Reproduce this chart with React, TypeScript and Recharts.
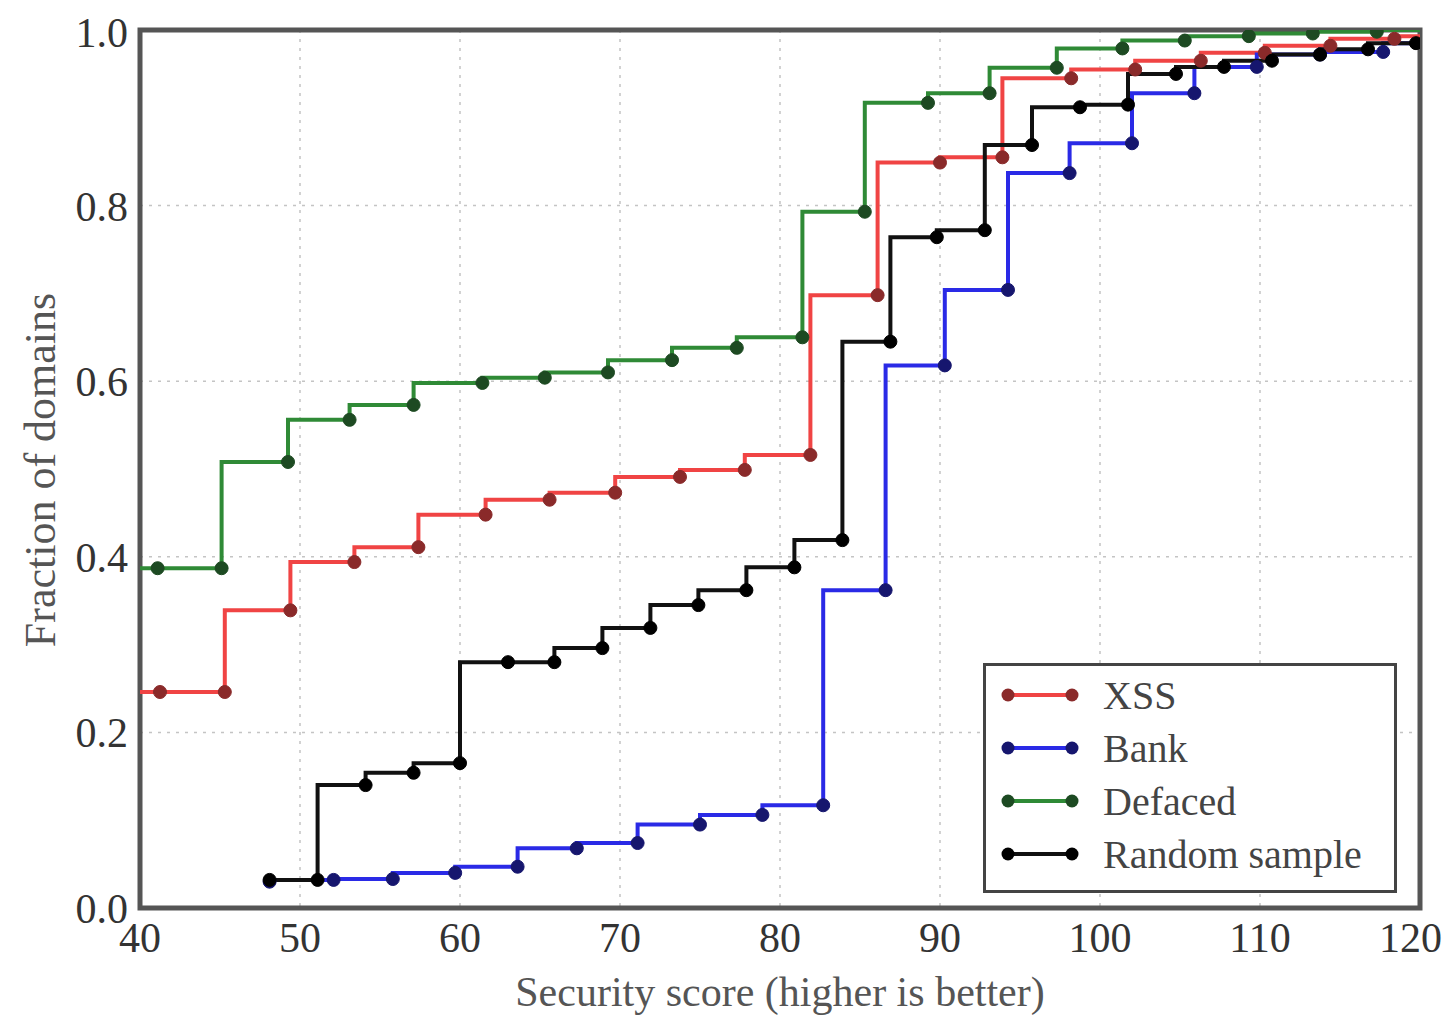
import React from 'react';
import { LineChart, Line, XAxis, YAxis, CartesianGrid, ReferenceArea, Label } from 'recharts';

// Step points (x = security score, y = cumulative fraction)
const xssX = [40, 41.25, 45.3, 49.4, 53.4, 57.4, 61.6, 65.6, 69.7, 73.75, 77.8, 81.9, 86.1, 90, 93.9, 98.2, 102.2, 106.3, 110.3, 114.4, 118.4, 120];
const xssY = [0.246, 0.246, 0.246, 0.339, 0.394, 0.411, 0.448, 0.465, 0.473, 0.491, 0.499, 0.516, 0.698, 0.849, 0.855, 0.945, 0.955, 0.965, 0.974, 0.982, 0.99, 0.993];

const bankX = [48.1, 52.1, 55.8, 59.7, 63.6, 67.3, 71.1, 75, 78.9, 82.7, 86.6, 90.3, 94.25, 98.1, 102, 105.9, 109.8, 113.75, 117.7, 120];
const bankY = [0.03, 0.032, 0.033, 0.04, 0.047, 0.068, 0.074, 0.095, 0.106, 0.117, 0.362, 0.618, 0.704, 0.837, 0.871, 0.928, 0.958, 0.972, 0.975, 0.985];

const defacedX = [40, 41.1, 45.1, 49.25, 53.1, 57.1, 61.4, 65.3, 69.25, 73.25, 77.3, 81.4, 85.3, 89.25, 93.1, 97.3, 101.4, 105.3, 109.3, 113.3, 117.3, 120];
const defacedY = [0.387, 0.387, 0.387, 0.508, 0.556, 0.573, 0.598, 0.604, 0.61, 0.624, 0.638, 0.65, 0.793, 0.917, 0.928, 0.957, 0.979, 0.988, 0.993, 0.996, 0.998, 1.0];

const randomX = [48.1, 51.1, 54.1, 57.1, 60, 63, 65.9, 68.9, 71.9, 74.9, 77.9, 80.9, 83.9, 86.9, 89.8, 92.8, 95.75, 98.75, 101.75, 104.75, 107.75, 110.75, 113.75, 116.75, 119.75];
const randomY = [0.032, 0.032, 0.14, 0.154, 0.165, 0.28, 0.28, 0.296, 0.319, 0.345, 0.362, 0.388, 0.419, 0.645, 0.764, 0.772, 0.869, 0.912, 0.915, 0.95, 0.958, 0.965, 0.972, 0.978, 0.985];

const xTicks = [40, 50, 60, 70, 80, 90, 100, 110, 120];
const yTicks = [0, 0.2, 0.4, 0.6, 0.8, 1.0];

const toPoints = (xs: number[], ys: number[]) => xs.map((x, i) => ({ x, y: ys[i] }));

const series = [
  { name: 'XSS', data: toPoints(xssX, xssY), color: '#f04444', marker: '#8a2a2a' },
  { name: 'Bank', data: toPoints(bankX, bankY), color: '#2a2ae6', marker: '#16166e' },
  { name: 'Defaced', data: toPoints(defacedX, defacedY), color: '#2f8a36', marker: '#1d4a22' },
  { name: 'Random sample', data: toPoints(randomX, randomY), color: '#111111', marker: '#000000' },
];

const FONT = '"Liberation Serif", "DejaVu Serif", serif';

// points sitting on the axis edges only carry the line, no marker
const makeDot = (fill: string) => (props: any) => {
  const { cx, cy, payload, index } = props;
  if (payload.x <= 40 || payload.x >= 120) return <g key={index} />;
  return <circle key={index} cx={cx} cy={cy} r={6.5} fill={fill} stroke={fill} strokeWidth={1} />;
};

const LegendBox = () => (
  <div
    style={{
      position: 'absolute',
      left: 975,
      top: 655,
      width: 414,
      height: 230,
      border: '3px solid #444',
      background: '#fff',
      boxSizing: 'border-box',
    }}
  >
    <svg width={408} height={224} style={{ display: 'block' }}>
      {series.map((s, i) => {
        const cy = 29 + i * 53;
        return (
          <g key={s.name}>
            <line x1={20} x2={88} y1={cy} y2={cy} stroke={s.color} strokeWidth={4} />
            <circle cx={22} cy={cy} r={6.5} fill={s.marker} />
            <circle cx={86} cy={cy} r={6.5} fill={s.marker} />
            <text x={117} y={cy} dominantBaseline="central" fontFamily={FONT} fontSize={40} fill="#444">
              {s.name}
            </text>
          </g>
        );
      })}
    </svg>
  </div>
);

const App: React.FC = () => {
  return (
    <div style={{ position: 'relative', width: 1434, height: 1011, background: '#fff' }}>
      <LineChart width={1434} height={1011} margin={{ top: 22, right: 22, left: 0, bottom: 0 }}>
        <CartesianGrid stroke="#c4c4c4" strokeDasharray="3 6" strokeWidth={1.5} />
        <XAxis
          dataKey="x"
          type="number"
          domain={[40, 120]}
          ticks={xTicks}
          allowDataOverflow
          height={111}
          axisLine={false}
          tickLine={false}
          tickSize={0}
          tickMargin={14}
          tick={{ fill: '#333', fontSize: 42, fontFamily: FONT }}
        >
          <Label
            content={() => (
              <text x={772} y={984} textAnchor="middle" dominantBaseline="central" fontFamily={FONT} fontSize={42} fill="#555">
                Security score (higher is better)
              </text>
            )}
          />
        </XAxis>
        <YAxis
          type="number"
          domain={[0, 1]}
          ticks={yTicks}
          allowDataOverflow
          width={132}
          axisLine={false}
          tickLine={false}
          tickSize={0}
          tickMargin={12}
          tickFormatter={(v: number) => v.toFixed(1)}
          tick={{ fill: '#333', fontSize: 42, fontFamily: FONT }}
        >
          <Label
            content={() => (
              <text x={32} y={462} transform="rotate(-90, 32, 462)" textAnchor="middle" dominantBaseline="central" fontFamily={FONT} fontSize={44} fill="#555">
                Fraction of domains
              </text>
            )}
          />
        </YAxis>
        <ReferenceArea x1={40} x2={120} y1={0} y2={1} fill="none" stroke="#555" strokeWidth={5} ifOverflow="visible" />
        {series.map((s) => (
          <Line
            key={s.name}
            data={s.data}
            dataKey="y"
            name={s.name}
            type="stepBefore"
            stroke={s.color}
            strokeWidth={4}
            dot={makeDot(s.marker)}
            activeDot={false}
            isAnimationActive={false}
          />
        ))}
      </LineChart>
      <LegendBox />
    </div>
  );
};

export default App;
